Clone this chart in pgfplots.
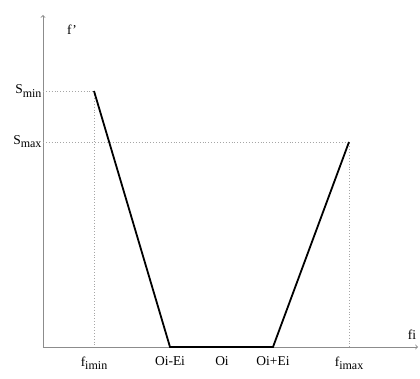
\documentclass[border=0pt]{standalone}
\usepackage{pgfplots}
\pgfplotsset{compat=1.18}
\usepackage{fontspec}
\setmainfont{Liberation Serif}
\newcommand{\sub}[1]{\raisebox{-0.5ex}{\fontsize{12}{14}\selectfont #1}}
\begin{document}
\begin{tikzpicture}
\begin{axis}[
  x=1pt, y=1pt,
  xmin=43, xmax=418, ymin=0, ymax=332,
  axis lines=left,
  axis line style={gray!90, line width=0.9pt, ->},
  clip=false,
  xtick={94,170,222,273,349},
  xticklabels={f\sub{imin}, Oi-Ei, Oi, Oi+Ei, f\sub{imax}},
  ytick={205,256},
  yticklabels={S\sub{max}, S\sub{min}},
  major tick length=0pt,
  tick label style={font=\fontsize{13.5}{15}\selectfont},
  xticklabel style={yshift=-6pt},
  yticklabel style={xshift=2pt},
  /pgf/number format/assume math mode=true,
]
\path (axis cs:0,-32) rectangle (axis cs:420,347);
\addplot[gray!70, dotted, line width=0.9pt] coordinates {(43,256) (94,256) (94,0)};
\addplot[gray!70, dotted, line width=0.9pt] coordinates {(43,205) (349,205) (349,0)};
\addplot[black, line width=1.8pt, line join=miter] coordinates {(94,256) (170,0) (273,0) (349,205)};
\node[font=\fontsize{13.5}{15}\selectfont] at (axis cs:72,317) {f\symbol{"27}};
\node[font=\fontsize{13.5}{15}\selectfont] at (axis cs:412,12) {fi};
\end{axis}
\end{tikzpicture}
\end{document}
